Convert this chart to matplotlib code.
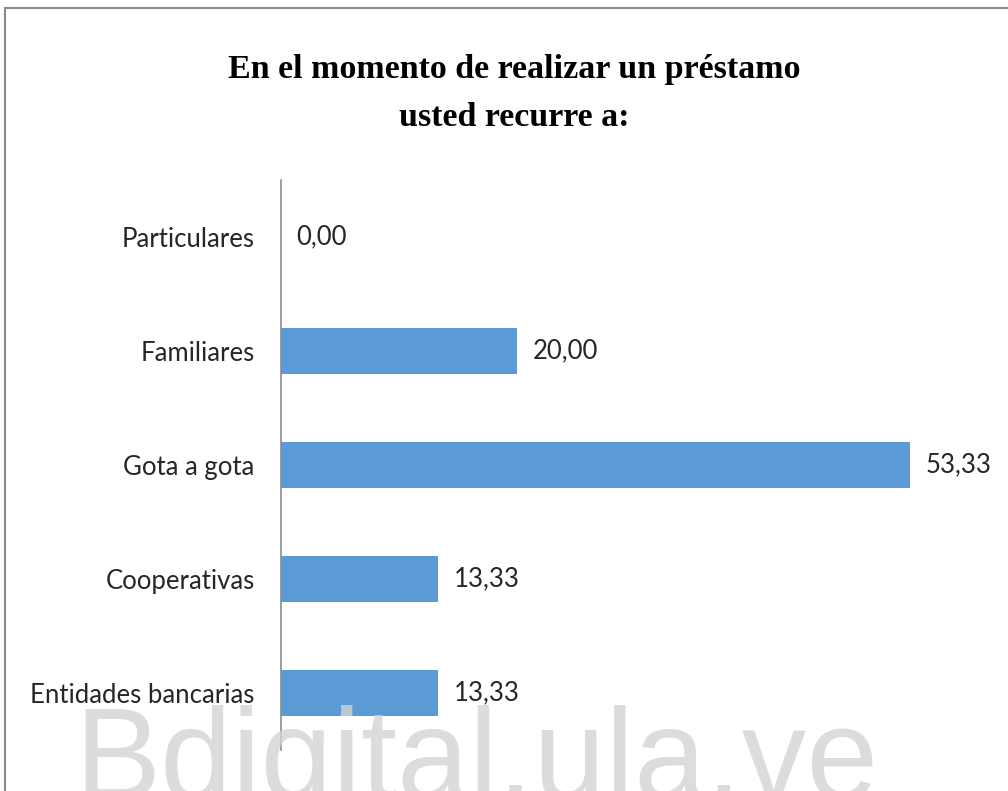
import matplotlib.pyplot as plt
from matplotlib.patches import Rectangle

# datos del grafico
categorias = ["Entidades bancarias", "Cooperativas", "Gota a gota", "Familiares", "Particulares"]
porcentajes = [13.33, 13.33, 53.33, 20.00, 0.00]
titulo = "En el momento de realizar un préstamo\nusted recurre a:"

fuente_eje = ["Lato", "DejaVu Sans"]

fig = plt.figure(figsize=(10.08, 7.91), dpi=100)
ax = fig.add_axes([0.2788, 0.0518, 0.7024, 0.7206])

y = range(len(categorias))
ax.barh(y, porcentajes, height=0.4, color="#5B9BD5", zorder=2)
ax.set_ylim(-0.5, len(categorias) - 0.5)
ax.set_xlim(0, 60)

ax.set_yticks(list(y))
ax.set_yticklabels(categorias, family=fuente_eje, fontsize=18.5, color="#262626")
ax.tick_params(axis="y", length=0, pad=19)
ax.set_xticks([])

for s in ["top", "right", "bottom"]:
    ax.spines[s].set_visible(False)
ax.spines["left"].set_color("#8c8c8c")
ax.spines["left"].set_linewidth(1.2)

for i, v in enumerate(porcentajes):
    ax.annotate(f"{v:.2f}".replace(".", ","), (v, i), xytext=(11, 0),
                textcoords="offset points", va="center", ha="left",
                family=fuente_eje, fontsize=18.5, color="#262626")

fig.text(0.51, 0.882, titulo, ha="center", va="center", family="Liberation Serif",
         fontweight="bold", fontsize=24.5, linespacing=1.7)

# marco del grafico (cortado a la derecha y abajo)
fig.add_artist(Rectangle((5 / 1008, -0.1), 1.2, 1.1 - 8 / 791,
                         transform=fig.transFigure, fill=False,
                         edgecolor="#8a8a8a", linewidth=1.5))

# marca de agua
fig.text(74 / 1008, -0.01, "Bdigital.ula.ve", ha="left", va="baseline",
         family="Liberation Sans", fontsize=93, color="#d4d4d4", alpha=0.8, zorder=10)

fig.savefig("out.png", dpi=100)
